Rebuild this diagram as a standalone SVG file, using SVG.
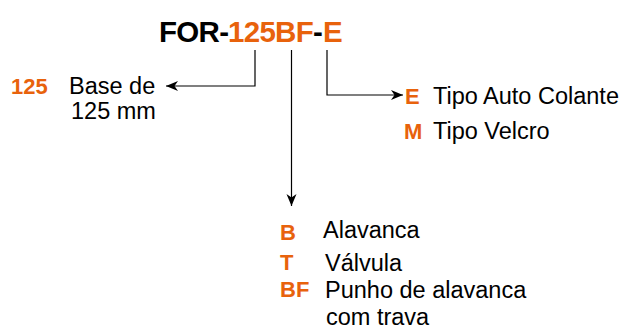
<svg xmlns="http://www.w3.org/2000/svg" width="624" height="329" viewBox="0 0 624 329">
<style>
.t{font-family:"Liberation Sans",Arial,sans-serif;font-size:23.5px;fill:#000}
.o{font-family:"Liberation Sans",Arial,sans-serif;font-size:22px;font-weight:bold;fill:#E8620C}
.ttl{font-family:"Liberation Sans",Arial,sans-serif;font-size:29.5px;font-weight:bold;letter-spacing:-0.7px}
.k{fill:#000}
.or{fill:#E8620C}
.ln{fill:none;stroke:#000;stroke-width:1.2}
</style>
<defs>
<marker id="ar" viewBox="-12 -6 13 12" refX="0" refY="0" markerWidth="13" markerHeight="12" markerUnits="userSpaceOnUse" orient="auto">
<path d="M0,0 L-12,-5 L-8.5,0 L-12,5 Z" fill="#000"/>
</marker>
</defs>
<g id="title">
<text class="ttl k" x="159" y="42">FOR-</text>
<text class="ttl or" x="228" y="42">125BF</text>
<text class="ttl k" x="313" y="42">-</text>
<text class="ttl or" x="323" y="42">E</text>
</g>
<g id="connectors">
<path class="ln" d="M255,50 V86 H166" marker-end="url(#ar)"/>
<path class="ln" d="M291.5,50 V206" marker-end="url(#ar)"/>
<path class="ln" d="M327,50 V95 H403" marker-end="url(#ar)"/>
</g>
<g id="base">
<text class="o" x="11" y="94">125</text>
<text class="t" x="69" y="94">Base de</text>
<text class="t" x="71" y="119">125 mm</text>
</g>
<g id="tipo">
<text class="o" x="405" y="104">E</text>
<text class="t" x="433" y="104">Tipo Auto Colante</text>
<text class="o" x="404" y="139">M</text>
<text class="t" x="433" y="139">Tipo Velcro</text>
</g>
<g id="acionamento">
<text class="o" x="280" y="240">B</text>
<text class="t" x="323" y="238">Alavanca</text>
<text class="o" x="280" y="270">T</text>
<text class="t" x="325" y="271">Válvula</text>
<text class="o" x="280" y="297">BF</text>
<text class="t" x="325" y="298">Punho de alavanca</text>
<text class="t" x="326" y="325">com trava</text>
</g>
</svg>
